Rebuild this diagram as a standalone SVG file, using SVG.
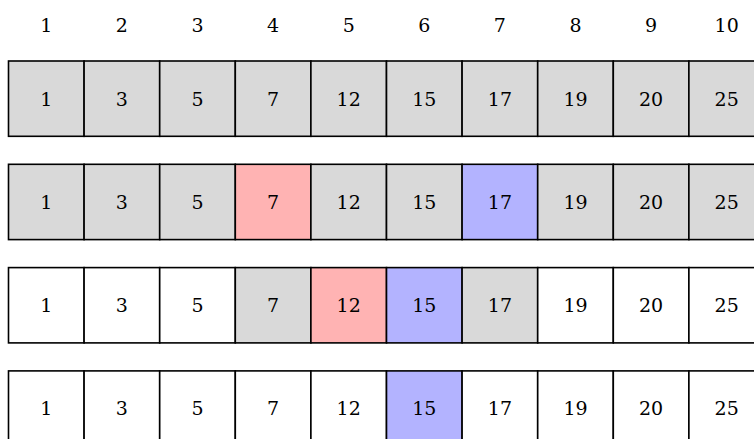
<svg xmlns="http://www.w3.org/2000/svg" width="754" height="439" viewBox="0 0 754 439">
<style>
.c{stroke:#000;stroke-width:1.6}
.g{fill:#d9d9d9}.w{fill:#fff}.r{fill:#ffb3b3}.b{fill:#b3b3ff}
text{font-family:"DejaVu Serif","Liberation Serif",serif;font-size:19px;fill:#000;text-anchor:middle;dominant-baseline:central}
</style>
<rect x="0" y="0" width="754" height="439" fill="#fff"/>
<g id="header">
<text x="46.3" y="25">1</text><text x="121.9" y="25">2</text><text x="197.5" y="25">3</text><text x="273.1" y="25">4</text><text x="348.7" y="25">5</text><text x="424.3" y="25">6</text><text x="499.9" y="25">7</text><text x="575.5" y="25">8</text><text x="651.1" y="25">9</text><text x="726.7" y="25">10</text>
</g>
<g id="row1" transform="translate(0,61)">
<g id="r1c1"><rect class="c g" x="8.5" y="0" width="75.6" height="75.3"/><text x="46.3" y="37.6">1</text></g>
<g id="r1c2"><rect class="c g" x="84.1" y="0" width="75.6" height="75.3"/><text x="121.9" y="37.6">3</text></g>
<g id="r1c3"><rect class="c g" x="159.7" y="0" width="75.6" height="75.3"/><text x="197.5" y="37.6">5</text></g>
<g id="r1c4"><rect class="c g" x="235.3" y="0" width="75.6" height="75.3"/><text x="273.1" y="37.6">7</text></g>
<g id="r1c5"><rect class="c g" x="310.9" y="0" width="75.6" height="75.3"/><text x="348.7" y="37.6">12</text></g>
<g id="r1c6"><rect class="c g" x="386.5" y="0" width="75.6" height="75.3"/><text x="424.3" y="37.6">15</text></g>
<g id="r1c7"><rect class="c g" x="462.1" y="0" width="75.6" height="75.3"/><text x="499.9" y="37.6">17</text></g>
<g id="r1c8"><rect class="c g" x="537.7" y="0" width="75.6" height="75.3"/><text x="575.5" y="37.6">19</text></g>
<g id="r1c9"><rect class="c g" x="613.3" y="0" width="75.6" height="75.3"/><text x="651.1" y="37.6">20</text></g>
<g id="r1c10"><rect class="c g" x="688.9" y="0" width="75.6" height="75.3"/><text x="726.7" y="37.6">25</text></g>
</g>
<g id="row2" transform="translate(0,164.3)">
<g id="r2c1"><rect class="c g" x="8.5" y="0" width="75.6" height="75.3"/><text x="46.3" y="37.6">1</text></g>
<g id="r2c2"><rect class="c g" x="84.1" y="0" width="75.6" height="75.3"/><text x="121.9" y="37.6">3</text></g>
<g id="r2c3"><rect class="c g" x="159.7" y="0" width="75.6" height="75.3"/><text x="197.5" y="37.6">5</text></g>
<g id="r2c4"><rect class="c r" x="235.3" y="0" width="75.6" height="75.3"/><text x="273.1" y="37.6">7</text></g>
<g id="r2c5"><rect class="c g" x="310.9" y="0" width="75.6" height="75.3"/><text x="348.7" y="37.6">12</text></g>
<g id="r2c6"><rect class="c g" x="386.5" y="0" width="75.6" height="75.3"/><text x="424.3" y="37.6">15</text></g>
<g id="r2c7"><rect class="c b" x="462.1" y="0" width="75.6" height="75.3"/><text x="499.9" y="37.6">17</text></g>
<g id="r2c8"><rect class="c g" x="537.7" y="0" width="75.6" height="75.3"/><text x="575.5" y="37.6">19</text></g>
<g id="r2c9"><rect class="c g" x="613.3" y="0" width="75.6" height="75.3"/><text x="651.1" y="37.6">20</text></g>
<g id="r2c10"><rect class="c g" x="688.9" y="0" width="75.6" height="75.3"/><text x="726.7" y="37.6">25</text></g>
</g>
<g id="row3" transform="translate(0,267.6)">
<g id="r3c1"><rect class="c w" x="8.5" y="0" width="75.6" height="75.3"/><text x="46.3" y="37.6">1</text></g>
<g id="r3c2"><rect class="c w" x="84.1" y="0" width="75.6" height="75.3"/><text x="121.9" y="37.6">3</text></g>
<g id="r3c3"><rect class="c w" x="159.7" y="0" width="75.6" height="75.3"/><text x="197.5" y="37.6">5</text></g>
<g id="r3c4"><rect class="c g" x="235.3" y="0" width="75.6" height="75.3"/><text x="273.1" y="37.6">7</text></g>
<g id="r3c5"><rect class="c r" x="310.9" y="0" width="75.6" height="75.3"/><text x="348.7" y="37.6">12</text></g>
<g id="r3c6"><rect class="c b" x="386.5" y="0" width="75.6" height="75.3"/><text x="424.3" y="37.6">15</text></g>
<g id="r3c7"><rect class="c g" x="462.1" y="0" width="75.6" height="75.3"/><text x="499.9" y="37.6">17</text></g>
<g id="r3c8"><rect class="c w" x="537.7" y="0" width="75.6" height="75.3"/><text x="575.5" y="37.6">19</text></g>
<g id="r3c9"><rect class="c w" x="613.3" y="0" width="75.6" height="75.3"/><text x="651.1" y="37.6">20</text></g>
<g id="r3c10"><rect class="c w" x="688.9" y="0" width="75.6" height="75.3"/><text x="726.7" y="37.6">25</text></g>
</g>
<g id="row4" transform="translate(0,370.9)">
<g id="r4c1"><rect class="c w" x="8.5" y="0" width="75.6" height="75.3"/><text x="46.3" y="37.6">1</text></g>
<g id="r4c2"><rect class="c w" x="84.1" y="0" width="75.6" height="75.3"/><text x="121.9" y="37.6">3</text></g>
<g id="r4c3"><rect class="c w" x="159.7" y="0" width="75.6" height="75.3"/><text x="197.5" y="37.6">5</text></g>
<g id="r4c4"><rect class="c w" x="235.3" y="0" width="75.6" height="75.3"/><text x="273.1" y="37.6">7</text></g>
<g id="r4c5"><rect class="c w" x="310.9" y="0" width="75.6" height="75.3"/><text x="348.7" y="37.6">12</text></g>
<g id="r4c6"><rect class="c b" x="386.5" y="0" width="75.6" height="75.3"/><text x="424.3" y="37.6">15</text></g>
<g id="r4c7"><rect class="c w" x="462.1" y="0" width="75.6" height="75.3"/><text x="499.9" y="37.6">17</text></g>
<g id="r4c8"><rect class="c w" x="537.7" y="0" width="75.6" height="75.3"/><text x="575.5" y="37.6">19</text></g>
<g id="r4c9"><rect class="c w" x="613.3" y="0" width="75.6" height="75.3"/><text x="651.1" y="37.6">20</text></g>
<g id="r4c10"><rect class="c w" x="688.9" y="0" width="75.6" height="75.3"/><text x="726.7" y="37.6">25</text></g>
</g>
</svg>
